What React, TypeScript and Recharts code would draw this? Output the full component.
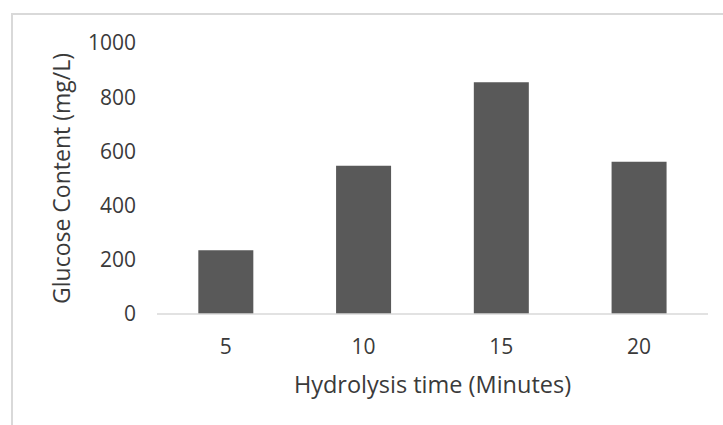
import React from "react";
import { BarChart, Bar, XAxis, YAxis } from "recharts";

const categories = ["5", "10", "15", "20"];
const glucose = [235, 547, 855, 562];
const yTicks = [0, 200, 400, 600, 800, 1000];
const xTitle = "Hydrolysis time (Minutes)";
const yTitle = "Glucose Content (mg/L)";

const data = categories.map((c, i) => ({ time: c, glucose: glucose[i] }));

const FONT = "'Open Sans', sans-serif";

export default function App() {
  return (
    <div style={{ position: "absolute", left: 0, top: 0, width: 723, height: 425, background: "#fff", overflow: "hidden" }}>
      <div style={{ position: "absolute", left: 11, top: 13, width: 760, height: 460, borderTop: "2px solid #d9d9d9", borderLeft: "2px solid #d9d9d9" }} />
      <div style={{ position: "absolute", left: 0, top: 0 }}>
        <BarChart width={723} height={425} data={data} margin={{ top: 43, right: 15, bottom: 31, left: 0 }} barCategoryGap="30%">
          <XAxis
            dataKey="time"
            height={80}
            axisLine={{ stroke: "#d9d9d9", strokeWidth: 1.5 }}
            tickLine={false}
            tickSize={0}
            tickMargin={25}
            tick={{ fill: "#3a3a3a", fontSize: 21, fontFamily: FONT }}
            label={{ value: xTitle, position: "insideBottom", offset: 1, fill: "#3a3a3a", fontSize: 23.5, fontFamily: FONT }}
          />
          <YAxis
            width={157}
            domain={[0, 1000]}
            ticks={yTicks}
            interval={0}
            axisLine={false}
            tickLine={false}
            tickSize={0}
            tickMargin={21}
            tick={{ fill: "#3a3a3a", fontSize: 21, fontFamily: FONT }}
            label={{ value: yTitle, angle: -90, position: "insideLeft", offset: 62, fill: "#3a3a3a", fontSize: 23, fontFamily: FONT, style: { textAnchor: "middle" } }}
          />
          <Bar dataKey="glucose" fill="#595959" isAnimationActive={false} />
        </BarChart>
      </div>
    </div>
  );
}
